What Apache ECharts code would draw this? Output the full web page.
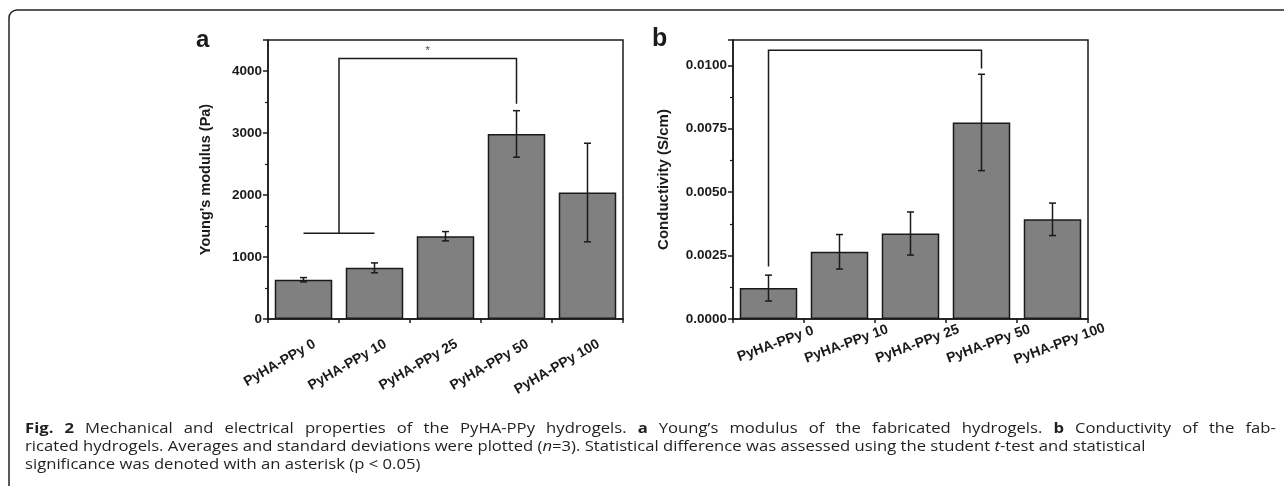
<!DOCTYPE html>
<html>
<head>
<meta charset="utf-8">
<script src="https://cdn.jsdelivr.net/npm/echarts@6/dist/echarts.min.js"></script>
<style>
html,body{margin:0;padding:0;background:#fff;}
#chart{width:1284px;height:486px;}
</style>
</head>
<body>
<div id="chart"></div>
<script>
// ---- data ----
const categories = ['PyHA-PPy 0', 'PyHA-PPy 10', 'PyHA-PPy 25', 'PyHA-PPy 50', 'PyHA-PPy 100'];
const modulusMean = [633, 825, 1335, 2985, 2040];
const modulusSd = [35, 80, 75, 375, 795];
const condMean = [0.00122, 0.00265, 0.00337, 0.00775, 0.00393];
const condSd = [0.00051, 0.00068, 0.00085, 0.0019, 0.00064];
// significance brackets: left/right anchor = midpoint of two categories, leg end value, top value
const sigA = { left: [0, 1], leftEnd: 1385, right: [3, 3], rightEnd: 3473, top: 4200, mark: '*' };
const sigB = { left: [0, 0], leftEnd: 0.00207, right: [3, 3], rightEnd: 0.00988, top: 0.0106, mark: '' };
const modulusTicks = { min: 0, max: 4500, interval: 1000 };
const condTicks = { min: 0, max: 0.011, interval: 0.0025 };

const INK = '#1a1a1a';
const FONT = '"Liberation Sans", Arial, sans-serif';
const chart = echarts.init(document.getElementById('chart'));

function grid(left) {
  return { left: left, top: 40, width: 355, height: 279, show: true, borderColor: INK, borderWidth: 1.5, containLabel: false };
}
function xMain(gi) {
  return {
    type: 'category', gridIndex: gi, data: categories, boundaryGap: true,
    axisLine: { lineStyle: { color: INK, width: 1.5 } },
    axisTick: { alignWithLabel: true, length: 6, lineStyle: { color: INK, width: 1.5 } },
    axisLabel: { show: false }
  };
}
function xMinor(gi) {
  return {
    type: 'category', gridIndex: gi, data: categories, boundaryGap: true, position: 'bottom',
    axisLine: { show: false },
    axisTick: { show: true, length: 4, interval: 0, lineStyle: { color: INK, width: 1.5 } },
    axisLabel: { show: false }
  };
}
function yAxis(gi, ticks, name, gap, nameSize, fmt) {
  return {
    type: 'value', gridIndex: gi, min: ticks.min, max: ticks.max, interval: ticks.interval,
    name: name, nameLocation: 'middle', nameGap: gap, nameRotate: 90,
    nameTextStyle: { color: INK, fontFamily: FONT, fontWeight: 'bold', fontSize: nameSize },
    axisLine: { show: true, lineStyle: { color: INK, width: 1.5 } },
    axisTick: { show: true, length: 5, lineStyle: { color: INK, width: 1.5 } },
    minorTick: { show: true, splitNumber: 2, length: 3, lineStyle: { color: INK, width: 1.2 } },
    splitLine: { show: false },
    axisLabel: { showMaxLabel: false, margin: 6, color: INK, fontFamily: FONT,
      fontWeight: 'bold', fontSize: 13.5, formatter: fmt }
  };
}
function barSeries(gi, means) {
  return {
    type: 'bar', xAxisIndex: gi * 2, yAxisIndex: gi, data: means, barWidth: '81%',
    itemStyle: { color: '#808080', borderColor: INK, borderWidth: 1.5 }, silent: true, z: 2
  };
}
function errSeries(gi, means, sds) {
  return {
    type: 'custom', xAxisIndex: gi * 2, yAxisIndex: gi, z: 5, silent: true,
    data: means.map((m, i) => [i, m - sds[i], m + sds[i]]),
    renderItem: function (params, api) {
      const x = api.value(0);
      const lo = api.coord([x, api.value(1)]);
      const hi = api.coord([x, api.value(2)]);
      const hw = 3.5, st = { stroke: INK, lineWidth: 1.5 };
      return { type: 'group', children: [
        { type: 'line', shape: { x1: lo[0], y1: lo[1], x2: hi[0], y2: hi[1] }, style: st },
        { type: 'line', shape: { x1: lo[0] - hw, y1: lo[1], x2: lo[0] + hw, y2: lo[1] }, style: st },
        { type: 'line', shape: { x1: hi[0] - hw, y1: hi[1], x2: hi[0] + hw, y2: hi[1] }, style: st }
      ] };
    }
  };
}
// rotated category labels placed through the category scale
function labelSeries(gi, deg, align, dx, dy) {
  return {
    type: 'custom', xAxisIndex: gi * 2, yAxisIndex: gi, z: 6, silent: true, clip: false,
    data: categories.map((c, i) => [i, 0]),
    renderItem: function (params, api) {
      const p = api.coord([api.value(0), 0]);
      return { type: 'text', x: p[0] + dx, y: p[1] + dy, rotation: deg * Math.PI / 180,
        style: { text: categories[params.dataIndex], fill: INK, font: 'bold 14px ' + FONT,
          align: align, verticalAlign: 'middle' } };
    }
  };
}
function sigSeries(gi, sig) {
  return {
    type: 'custom', xAxisIndex: gi * 2, yAxisIndex: gi, z: 6, silent: true,
    data: [[sig.left[0], sig.left[1], sig.leftEnd, sig.right[0], sig.right[1], sig.rightEnd, sig.top]],
    renderItem: function (params, api) {
      const la = api.coord([api.value(0), api.value(2)]), lb = api.coord([api.value(1), api.value(2)]);
      const ra = api.coord([api.value(3), api.value(5)]), rb = api.coord([api.value(4), api.value(5)]);
      const topY = api.coord([0, api.value(6)])[1];
      const lx = (la[0] + lb[0]) / 2, rx = (ra[0] + rb[0]) / 2;
      const st = { stroke: INK, lineWidth: 1.5, fill: null };
      const ch = [
        { type: 'polyline', shape: { points: [[lx, la[1]], [lx, topY], [rx, topY], [rx, ra[1]]] }, style: st }
      ];
      if (la[0] !== lb[0]) ch.push({ type: 'line', shape: { x1: la[0], y1: la[1], x2: lb[0], y2: lb[1] }, style: st });
      if (ra[0] !== rb[0]) ch.push({ type: 'line', shape: { x1: ra[0], y1: ra[1], x2: rb[0], y2: rb[1] }, style: st });
      if (sig.mark) ch.push({ type: 'text', x: (lx + rx) / 2, y: topY - 8,
        style: { text: sig.mark, fill: '#444', font: '11px ' + FONT, align: 'center', verticalAlign: 'middle' } });
      return { type: 'group', children: ch };
    }
  };
}

const capFont = '"Open Sans", "Noto Sans", sans-serif';
const capColor = '#231f20';
const capRich = {
  n: { fontFamily: capFont, fontSize: 15, fill: capColor },
  b: { fontFamily: capFont, fontSize: 15, fontWeight: 'bold', fill: capColor },
  i: { fontFamily: capFont, fontSize: 15, fontStyle: 'italic', fill: capColor },
  s: { fontFamily: capFont, fontSize: 15, width: 10.0, fill: capColor }
};
function capLine(y, text) {
  return { type: 'text', left: 25, top: y, scaleX: 1.11, silent: true,
    style: { text: text, rich: capRich, fontFamily: capFont, fontSize: 15, fill: capColor } };
}
// first caption line is justified: its word gaps are wider. Words given as 'style:word'.
function justify(words) {
  return words.map(w => { const k = w.indexOf(':'); return '{' + w.slice(0, k) + '|' + w.slice(k + 1) + '}'; }).join('{s| }');
}
const frameStyle = { stroke: '#222', lineWidth: 1.5, fill: null };

chart.setOption({
  animation: false,
  backgroundColor: '#fff',
  grid: [grid(268), grid(733)],
  xAxis: [xMain(0), xMinor(0), xMain(1), xMinor(1)],
  yAxis: [
    yAxis(0, modulusTicks, "Young's modulus (Pa)", 55, 14.5, v => String(v)),
    yAxis(1, condTicks, 'Conductivity (S/cm)', 62, 15, v => v.toFixed(4))
  ],
  series: [
    barSeries(0, modulusMean), errSeries(0, modulusMean, modulusSd), sigSeries(0, sigA), labelSeries(0, 30, 'right', 11, 24),
    barSeries(1, condMean), errSeries(1, condMean, condSd), sigSeries(1, sigB), labelSeries(1, 20, 'center', 7, 25)
  ],
  graphic: [
    { type: 'line', silent: true, shape: { x1: 9, y1: 486, x2: 9, y2: 18 }, style: frameStyle },
    { type: 'arc', silent: true, shape: { cx: 17, cy: 18, r: 8, startAngle: Math.PI, endAngle: Math.PI * 1.5 }, style: frameStyle },
    { type: 'line', silent: true, shape: { x1: 17, y1: 10, x2: 1284, y2: 10 }, style: frameStyle },
    { type: 'text', left: 196, top: 28, silent: true,
      style: { text: 'a', font: 'bold 24px ' + FONT, fill: INK } },
    { type: 'text', left: 652, top: 27, silent: true,
      style: { text: 'b', font: 'bold 25px ' + FONT, fill: INK } },
    capLine(421, justify(['b:Fig.', 'b:2', 'n:Mechanical', 'n:and', 'n:electrical', 'n:properties', 'n:of', 'n:the', 'n:PyHA-PPy',
      'n:hydrogels.', 'b:a', 'n:Young\u2019s', 'n:modulus', 'n:of', 'n:the', 'n:fabricated', 'n:hydrogels.', 'b:b',
      'n:Conductivity', 'n:of', 'n:the', 'n:fab-'])),
    capLine(439, '{n|ricated hydrogels. Averages and standard deviations were plotted (}{i|n}{n|=3). Statistical difference was assessed using the student }{i|t}{n|-test and statistical}'),
    capLine(457, '{n|significance was denoted with an asterisk (p < 0.05)}')
  ]
});
</script>
</body>
</html>
